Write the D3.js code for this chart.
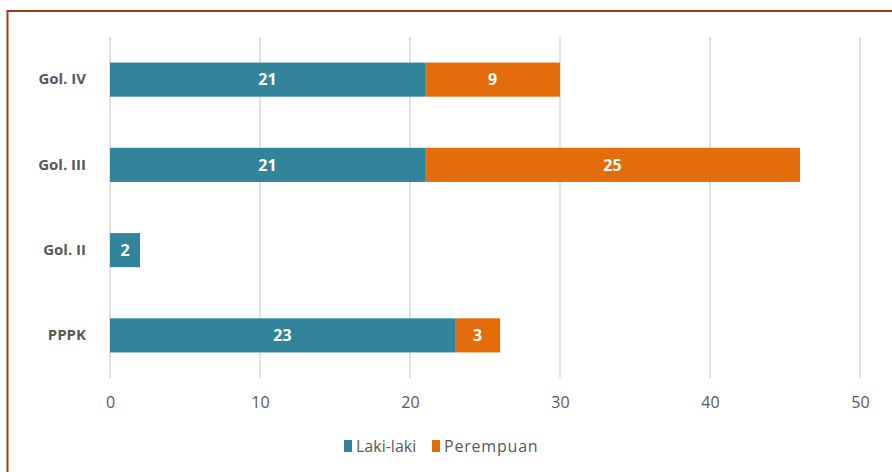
<!DOCTYPE html>
<html>
<head>
<meta charset="utf-8">
<script src="https://cdn.jsdelivr.net/npm/d3@7"></script>
<style>
  body { margin: 0; background: #fff; }
  svg, svg text { font-family: "Open Sans", "Noto Sans", sans-serif; }
  svg { display: block; }
</style>
</head>
<body>
<div id="chart"></div>
<script>
// data
var categories = ["Gol. IV", "Gol. III", "Gol. II", "PPPK"];
var lakiLaki = [21, 21, 2, 23];
var perempuan = [9, 25, 0, 3];
var seriesNames = ["Laki-laki", "Perempuan"];
var seriesColors = ["#31849b", "#e46c0a"];
var xTicks = [0, 10, 20, 30, 40, 50];

var width = 892, height = 472;
var margin = {top: 37, right: 32, bottom: 94, left: 110};

var svg = d3.select("#chart").append("svg")
    .attr("width", width)
    .attr("height", height);

// frame
svg.append("rect")
    .attr("x", 7.5).attr("y", 11)
    .attr("width", width + 10).attr("height", height + 10)
    .attr("fill", "none")
    .attr("stroke", "#9a3d12")
    .attr("stroke-width", 2);

var x = d3.scaleLinear().domain([0, 50]).range([margin.left, width - margin.right]);
var y = d3.scaleBand().domain(categories)
    .range([margin.top, height - margin.bottom])
    .paddingInner(0.6).paddingOuter(0.3);

// gridlines
svg.append("g")
    .selectAll("line")
    .data(xTicks)
    .enter().append("line")
    .attr("x1", d => x(d)).attr("x2", d => x(d))
    .attr("y1", margin.top).attr("y2", height - margin.bottom)
    .attr("stroke", "#d9d9d9")
    .attr("stroke-width", 1.5);

// x axis labels
var xAxis = svg.append("g")
    .attr("transform", "translate(0," + (height - margin.bottom) + ")")
    .call(d3.axisBottom(x).tickValues(xTicks).tickSize(0).tickPadding(19));
xAxis.select(".domain").remove();
xAxis.attr("font-family", null);
xAxis.selectAll("text")
    .attr("fill", "#595959")
    .style("font-size", "16px");

// y axis labels
var yAxis = svg.append("g")
    .attr("transform", "translate(" + (margin.left - 24) + ",0)")
    .call(d3.axisLeft(y).tickSize(0).tickPadding(0));
yAxis.select(".domain").remove();
yAxis.attr("font-family", null);
yAxis.selectAll("text")
    .attr("fill", "#595959")
    .style("font-size", "15px")
    .style("font-weight", "bold");

var rows = categories.map(function (c, i) {
    return {cat: c, laki: lakiLaki[i], perempuan: perempuan[i]};
});
var stack = d3.stack().keys(["laki", "perempuan"])(rows);

var layers = svg.append("g")
    .selectAll("g")
    .data(stack)
    .enter().append("g")
    .attr("fill", (d, i) => seriesColors[i]);

layers.selectAll("rect")
    .data(d => d)
    .enter().append("rect")
    .attr("x", d => x(d[0]))
    .attr("y", d => y(d.data.cat))
    .attr("width", d => x(d[1]) - x(d[0]))
    .attr("height", y.bandwidth());

// value labels
layers.selectAll("text")
    .data(d => d.filter(p => p[1] - p[0] > 0))
    .enter().append("text")
    .attr("x", d => (x(d[0]) + x(d[1])) / 2)
    .attr("y", d => y(d.data.cat) + y.bandwidth() / 2)
    .attr("dy", "0.36em")
    .attr("text-anchor", "middle")
    .attr("fill", "#fff")
    .style("font-size", "16px")
    .style("font-weight", "bold")
    .text(d => d[1] - d[0]);

// legend
var legend = svg.append("g").attr("transform", "translate(344,446)");
var legendX = [0, 88];
seriesNames.forEach(function (name, i) {
    var g = legend.append("g").attr("transform", "translate(" + legendX[i] + ",0)");
    g.append("rect")
        .attr("x", 0).attr("y", -6)
        .attr("width", 8).attr("height", 12)
        .attr("fill", seriesColors[i]);
    g.append("text")
        .attr("x", 12).attr("dy", "0.36em")
        .attr("fill", "#595959")
        .style("font-size", "16px")
        .style("letter-spacing", i === 1 ? "0.8px" : "0px")
        .text(name);
});
</script>
</body>
</html>
